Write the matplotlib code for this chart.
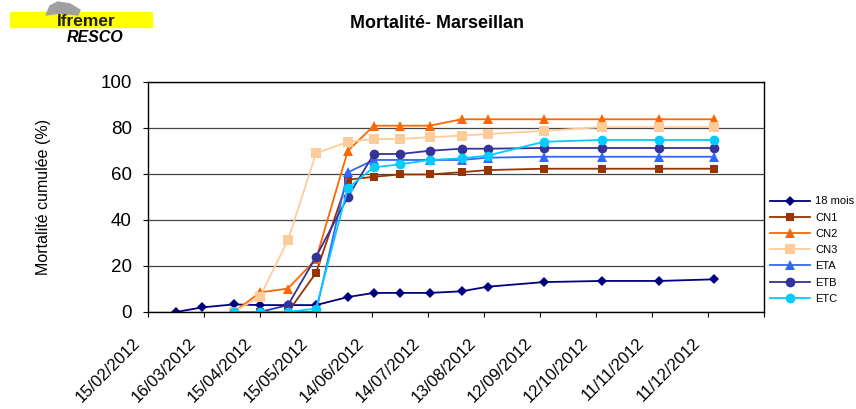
import numpy as np
import matplotlib
matplotlib.use('Agg')
import matplotlib.pyplot as plt
from matplotlib.patches import Rectangle, Polygon
from matplotlib.transforms import ScaledTranslation

plt.rcParams['font.family'] = ['Liberation Sans', 'DejaVu Sans']

# Dates of the sampling
dates_18 = np.array(['2012-03-01', '2012-03-15', '2012-04-01', '2012-04-15', '2012-04-30',
                     '2012-05-15', '2012-06-01', '2012-06-15', '2012-06-29', '2012-07-15',
                     '2012-08-01', '2012-08-15', '2012-09-14', '2012-10-15', '2012-11-15',
                     '2012-12-14'], dtype='datetime64[D]')
dates_lots = dates_18[2:]

# Cumulated mortality (%)
mois18 = [0, 2, 3.3, 3, 3, 3, 6.5, 8.3, 8.3, 8.3, 9, 11, 13, 13.5, 13.5, 14.2]
cn1 = [0, 0, 0, 17, 57.5, 58.8, 59.8, 59.8, 60.8, 61.7, 62.3, 62.3, 62.3, 62.3]
cn2 = [0, 8.5, 10.2, 23, 70, 81, 81, 81, 83.8, 83.8, 83.8, 83.8, 83.8, 83.8]
cn3 = [0, 6.7, 31.3, 69, 74, 75.2, 75.2, 76, 76.7, 77.4, 78.7, 80.4, 80.4, 80.4]
eta = [0, 0, 0, 0, 60.7, 66.1, 66.1, 66.1, 66.1, 67.1, 67.5, 67.5, 67.5, 67.5]
etb = [0, 0, 3, 24, 50, 68.7, 68.7, 70.1, 71, 71, 71.3, 71.3, 71.3, 71.3]
etc = [0, 0, 0, 1.5, 53.8, 62.9, 64.2, 66.1, 66.8, 68, 74, 74.8, 74.8, 74.8]

tick_dates = np.arange(np.datetime64('2012-02-15'), np.datetime64('2013-01-12'), 30)
tick_labels = [d.astype(object).strftime('%d/%m/%Y') for d in tick_dates]
tick_labels[-1] = ''

fig = plt.figure(figsize=(8.56, 4.09), dpi=100)
ax = fig.add_axes([148 / 856, 1 - 312 / 409, (764 - 148) / 856, (312 - 82) / 409])

series = [
    (dates_18, mois18, '18 mois', '#000080', 'D', 5.5),
    (dates_lots, cn1, 'CN1', '#993300', 's', 6),
    (dates_lots, cn2, 'CN2', '#FF6600', '^', 7),
    (dates_lots, cn3, 'CN3', '#FFCC99', 's', 6.5),
    (dates_lots, eta, 'ETA', '#3366FF', '^', 7),
    (dates_lots, etb, 'ETB', '#333399', 'o', 7),
    (dates_lots, etc, 'ETC', '#00CCFF', 'o', 7),
]
for x, y, lab, col, mk, ms in series:
    ax.plot(x, y, color=col, marker=mk, markersize=ms, linewidth=1.3, label=lab,
            markeredgewidth=0)

ax.set_ylim(0, 100)
ax.set_yticks([0, 20, 40, 60, 80, 100])
ax.set_xlim(tick_dates[0], tick_dates[-1])
ax.set_xticks(tick_dates)
ax.set_xticklabels(tick_labels, rotation=45, ha='right', va='center',
                   rotation_mode='anchor')
ax.tick_params(axis='x', labelsize=12, length=3.6, direction='out', pad=0)
ax.tick_params(axis='y', labelsize=13.5, length=3.6, direction='out', pad=8)
shift = ScaledTranslation(-0.10, -0.235, fig.dpi_scale_trans)
for lbl in ax.get_xticklabels():
    lbl.set_transform(lbl.get_transform() + shift)
ax.grid(axis='y', color='#444444', linewidth=0.9)
ax.set_axisbelow(True)
for s in ax.spines.values():
    s.set_linewidth(1)
ax.set_ylabel('Mortalité cumulée (%)', fontsize=11.5, labelpad=36)

fig.text(437 / 856, 1 - 23 / 409, 'Mortalité- Marseillan', ha='center', va='center',
         fontsize=12.9, fontweight='bold')

# legend
ax.legend(loc='upper left', bbox_to_anchor=(766 / 856, 1 - 192 / 409),
          bbox_transform=fig.transFigure, frameon=False, fontsize=8,
          handlelength=3.6, labelspacing=0.56, handletextpad=0.4, borderaxespad=0)

# Ifremer logo
fig.patches.append(Rectangle((10 / 856, 1 - 27 / 409), 142 / 856, 15 / 409,
                             transform=fig.transFigure, color='#FFFF00', zorder=1))
fig.patches.append(Polygon([(46 / 856, 1 - 15 / 409), (50 / 856, 1 - 6 / 409),
                            (58 / 856, 1 - 2 / 409), (70 / 856, 1 - 4 / 409),
                            (80 / 856, 1 - 10 / 409), (78 / 856, 1 - 15 / 409),
                            (60 / 856, 1 - 13 / 409)],
                           closed=True, transform=fig.transFigure, color='#A0A0A0',
                           zorder=2))
fig.text(57 / 856, 1 - 21 / 409, 'Ifremer', ha='left', va='center', fontsize=12.5,
         fontweight='bold', color='#202020', zorder=3)
fig.text(67 / 856, 1 - 37 / 409, 'RESCO', ha='left', va='center', fontsize=11.5,
         fontweight='bold', fontstyle='italic', color='black')

fig.savefig('out.png', dpi=100)
